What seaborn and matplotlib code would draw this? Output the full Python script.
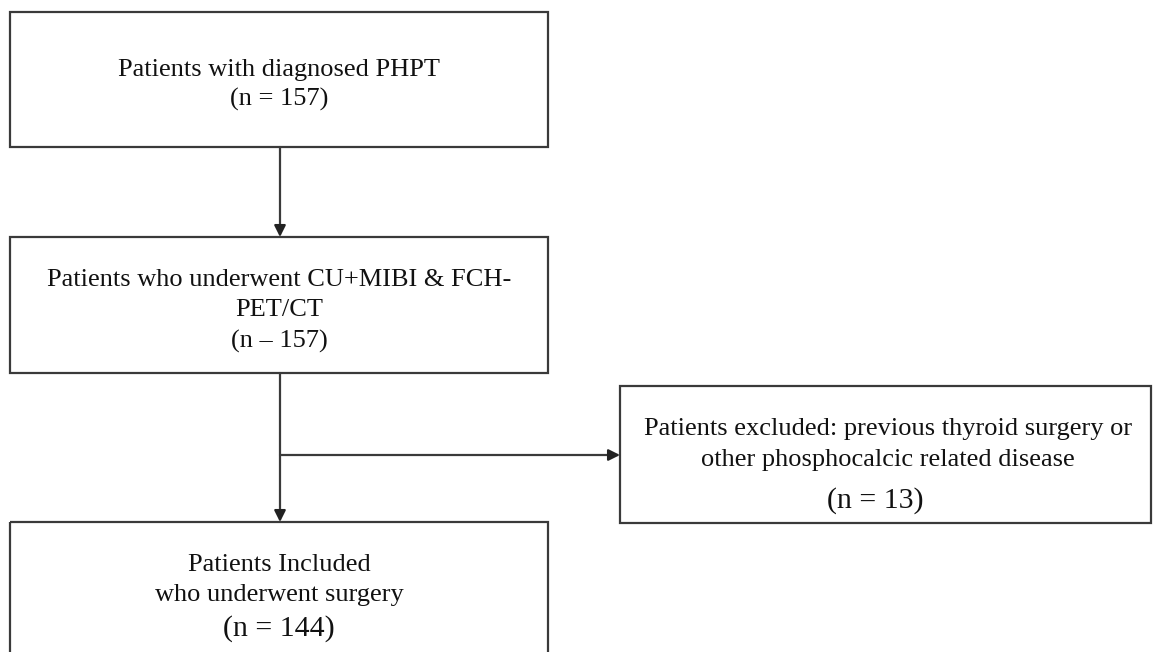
import matplotlib
matplotlib.use("Agg")
import matplotlib.pyplot as plt
from matplotlib.patches import Rectangle
import seaborn as sns

# flowchart content
stage_titles = [
    ["Patients with diagnosed PHPT"],
    ["Patients who underwent CU+MIBI & FCH-", "PET/CT"],
    ["Patients Included", "who underwent surgery"],
    ["Patients excluded: previous thyroid surgery or", "other phosphocalcic related disease"],
]
stage_counts = ["(n = 157)", "(n \u2013 157)", "(n = 144)", "(n = 13)"]

# layout in pixel coordinates (x0, y0, x1, y1), y grows downwards
boxes = [(10, 12, 548, 147), (10, 237, 548, 373), (10, 522, 548, 700), (620, 386, 1151, 523)]
title_y = [[70], [280, 310], [565, 595], [429, 460]]
count_y = [99, 341, 629, 501]
count_big = [False, False, True, True]
text_x = [279, 279, 279, 888]
count_x = [279, 279, 279, 875]

sns.set_theme(style="white")
plt.rcParams["font.family"] = ["Liberation Serif", "DejaVu Serif"]

line_col = "#3a3a3a"
fig = plt.figure(figsize=(11.53, 6.52), dpi=100)
ax = fig.add_axes([0, 0, 1, 1])
ax.set_xlim(0, 1153)
ax.set_ylim(652, 0)
ax.axis("off")

for (x0, y0, x1, y1) in boxes:
    ax.add_patch(Rectangle((x0, y0), x1 - x0, y1 - y0, fill=False,
                           edgecolor=line_col, linewidth=1.6))

for i, lines in enumerate(stage_titles):
    for ln, y in zip(lines, title_y[i]):
        ax.text(text_x[i], y, ln, ha="center", va="center", fontsize=19, color="#111111")
    ax.text(count_x[i], count_y[i], stage_counts[i], ha="center", va="center",
            fontsize=21.5 if count_big[i] else 19, color="#111111")

# connectors
cx = 280
segments = [
    ([cx, cx], [147, 230]),
    ([cx, cx], [373, 515]),
    ([cx, 612], [455, 455]),
]
for xs, ys in segments:
    sns.lineplot(x=xs, y=ys, sort=False, estimator=None, color=line_col,
                 linewidth=1.6, ax=ax)

arrow_heads = [((cx, 226), (cx, 237)), ((cx, 511), (cx, 522)), ((608, 455), (620, 455))]
for start, end in arrow_heads:
    ax.annotate("", xy=end, xytext=start,
                arrowprops=dict(arrowstyle="-|>", color="#222222", lw=1.6,
                                mutation_scale=17, shrinkA=0, shrinkB=0))

fig.savefig("out.png", dpi=100)
